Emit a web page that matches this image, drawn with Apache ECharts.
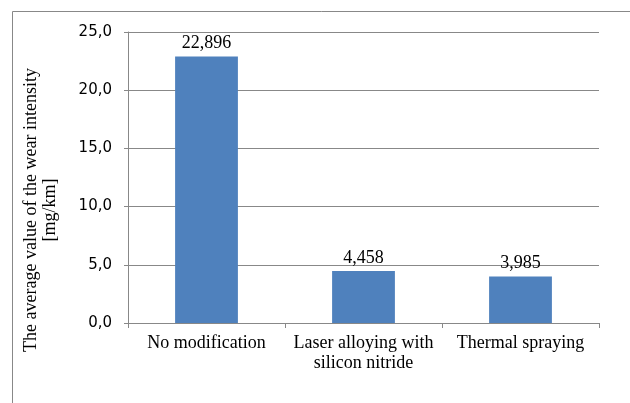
<!DOCTYPE html>
<html>
<head>
<meta charset="utf-8">
<script src="https://cdn.jsdelivr.net/npm/echarts@6/dist/echarts.min.js"></script>
<style>html,body{margin:0;padding:0;background:#fff}#c{width:630px;height:403px}</style>
</head>
<body>
<div id="c"></div>
<script>
var categories = ['No modification', 'Laser alloying with\nsilicon nitride', 'Thermal spraying'];
var values = [22.896, 4.458, 3.985];
var yTitle = 'The average value of the wear intensity\n[mg/km]';

var chart = echarts.init(document.getElementById('c'));
var serif = '"Liberation Serif", "Times New Roman", serif';
chart.setOption({
  animation: false,
  graphic: [{
    type: 'rect', left: 10, top: 9, silent: true,
    shape: { width: 700, height: 500 },
    style: { fill: 'none', stroke: '#888', lineWidth: 1 }
  }, {
    type: 'text', x: 41, y: 210, rotation: Math.PI / 2, silent: true,
    style: {
      text: yTitle, fill: '#000', font: '18px ' + serif, lineHeight: 19,
      textAlign: 'center', textVerticalAlign: 'middle', align: 'center', verticalAlign: 'middle'
    }
  }],
  grid: { left: 128, right: 31, top: 32, bottom: 80 },
  xAxis: {
    type: 'category', data: categories,
    axisLine: { lineStyle: { color: '#888' } },
    axisTick: { show: true, length: 5, alignWithLabel: false, lineStyle: { color: '#888' } },
    axisLabel: { color: '#000', fontFamily: serif, fontSize: 18, lineHeight: 20, margin: 10, interval: 0, hideOverlap: false }
  },
  yAxis: {
    type: 'value', min: 0, max: 25, interval: 5,
    axisLine: { show: true, lineStyle: { color: '#888' } },
    axisTick: { show: true, length: 4, lineStyle: { color: '#888' } },
    splitLine: { lineStyle: { color: '#888' } },
    axisLabel: {
      color: '#000', fontFamily: '"DejaVu Sans", Verdana, sans-serif', fontSize: 15, margin: 16,
      formatter: function (v) { return v.toFixed(1).replace('.', ','); }
    }
  },
  series: [{
    type: 'bar', data: values, barWidth: '40%',
    itemStyle: { color: '#4F81BD' },
    label: {
      show: true, position: 'top', distance: 4, color: '#000', fontFamily: serif, fontSize: 18,
      formatter: function (p) { return p.value.toFixed(3).replace('.', ','); }
    }
  }]
});
</script>
</body>
</html>
